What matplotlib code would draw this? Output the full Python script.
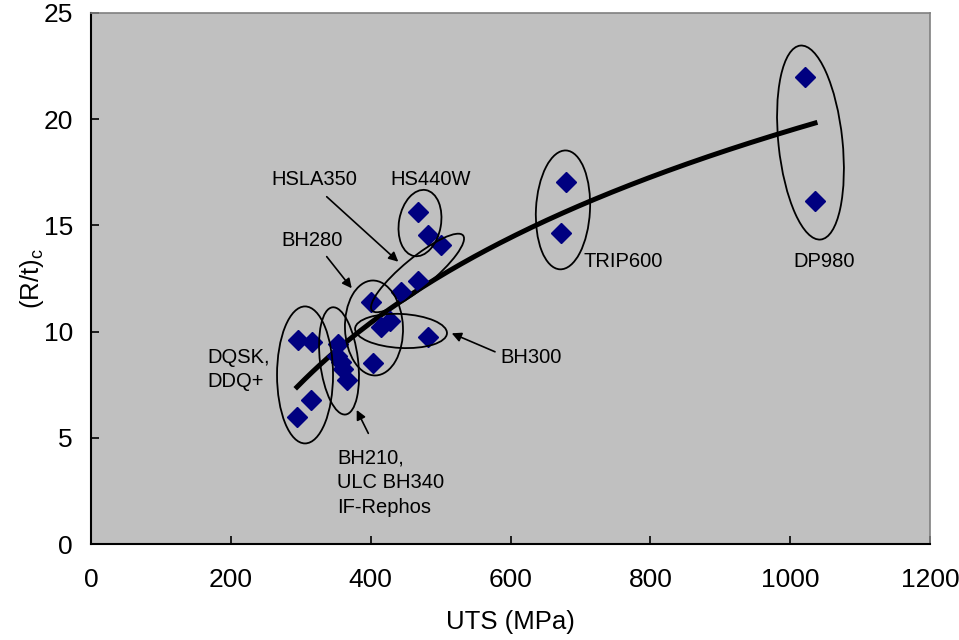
import matplotlib
matplotlib.use("Agg")
import matplotlib.pyplot as plt
import numpy as np
from matplotlib.patches import Ellipse
from matplotlib.transforms import ScaledTranslation

plt.rcParams["font.family"] = ["Liberation Sans", "DejaVu Sans"]
plt.rcParams["mathtext.fontset"] = "custom"
plt.rcParams["mathtext.rm"] = "Liberation Sans"

# measured points (UTS in MPa, critical bend ratio)
uts = [294.6, 314.6, 296.5, 315.7,
       353.3, 351.8, 357.5, 360.4, 366.1,
       400.0, 403.8, 414.8, 427.6, 444.0, 468.0, 482.0,
       468.0, 482.0, 501.0,
       672.0, 679.5,
       1021.0, 1035.5]
rt_c = [5.98, 6.78, 9.60, 9.52,
        9.42, 8.85, 8.57, 8.24, 7.72,
        11.41, 8.54, 10.20, 10.50, 11.87, 12.40, 9.76,
        15.65, 14.55, 14.08,
        14.66, 17.06,
        22.00, 16.16]

x_ticks = [0, 200, 400, 600, 800, 1000, 1200]
y_ticks = [0, 5, 10, 15, 20, 25]

# grade groups: label, ellipse centre (data), size (in), angle
groups = [
    ("DQSK", 306.1, 7.96, 0.56, 1.37, 0),
    ("BH210", 354.7, 8.62, 0.38, 1.08, 7),
    ("BH280", 404.7, 10.17, 0.58, 0.95, 2),
    ("BH300", 443.4, 10.03, 0.92, 0.34, -3),
    ("HSLA350", 467.0, 12.76, 0.30, 1.18, -50.5),
    ("HS440W", 470.5, 15.11, 0.42, 0.67, -10),
    ("TRIP600", 675.0, 15.73, 0.54, 1.19, -3),
    ("DP980", 1029.0, 18.90, 0.64, 1.95, 6),
]

fig = plt.figure(figsize=(9.59, 6.4), dpi=100)
ax = fig.add_axes([0.0949, 0.15, 0.8749, 0.8297])
ax.set_facecolor("#c0c0c0")

# logarithmic trend line through the data
coef = np.polyfit(np.log(uts), rt_c, 1)
xs = np.linspace(min(uts), max(uts), 200)
ax.plot(xs, np.polyval(coef, np.log(xs)), color="black", lw=3.6, zorder=3)

ax.plot(uts, rt_c, linestyle="none", marker="D", ms=10.5,
        color="#000080", mec="#000080", zorder=4)

for _, cx, cy, w, h, ang in groups:
    tr = fig.dpi_scale_trans + ScaledTranslation(cx, cy, ax.transData)
    ax.add_patch(Ellipse((0, 0), w, h, angle=ang, transform=tr,
                         fill=False, ec="black", lw=1.3, zorder=5))

fs = 14.5
ax.text(258.4, 17.14, "HSLA350", fontsize=fs, va="center")
ax.text(427.6, 17.14, "HS440W", fontsize=fs, va="center")
ax.text(272.7, 14.31, "BH280", fontsize=fs, va="center")
ax.text(165.9, 8.22, "DQSK,\nDDQ+", fontsize=fs, va="center", linespacing=1.3)
ax.text(351.8, 4.48, "BH210,\nULC BH340\nIF-Rephos", fontsize=fs, va="top", linespacing=1.36)
ax.text(585.0, 8.80, "BH300", fontsize=fs, va="center")
ax.text(703.7, 13.28, "TRIP600", fontsize=fs, va="center")
ax.text(1004.5, 13.29, "DP980", fontsize=fs, va="center")

arrow = dict(arrowstyle="-|>", color="black", lw=1.2, mutation_scale=14,
             shrinkA=0, shrinkB=0)
for tip, tail in [((439.5, 13.29), (337.1, 16.35)),
                  ((372.9, 12.04), (337.1, 13.53)),
                  ((515.9, 9.92), (577.8, 9.05)),
                  ((380.0, 6.31), (396.6, 5.21))]:
    ax.annotate("", xy=tip, xytext=tail, arrowprops=arrow, zorder=6)

ax.set_xlim(0, 1200)
ax.set_ylim(0, 25)
ax.set_xticks(x_ticks)
ax.set_yticks(y_ticks)
ax.tick_params(direction="in", length=6, width=1.2, labelsize=19)
ax.tick_params(axis="x", pad=17)
ax.tick_params(axis="y", pad=13)
for s in ["left", "bottom"]:
    ax.spines[s].set_linewidth(1.5)
for s in ["top", "right"]:
    ax.spines[s].set_color("#808080")
    ax.spines[s].set_linewidth(1.2)

ax.set_xlabel("UTS (MPa)", fontsize=18.5, labelpad=13)
ax.set_ylabel(r"(R/t)$_\mathregular{c}$", fontsize=18.5, labelpad=-2)

fig.savefig("out.png", dpi=100)
